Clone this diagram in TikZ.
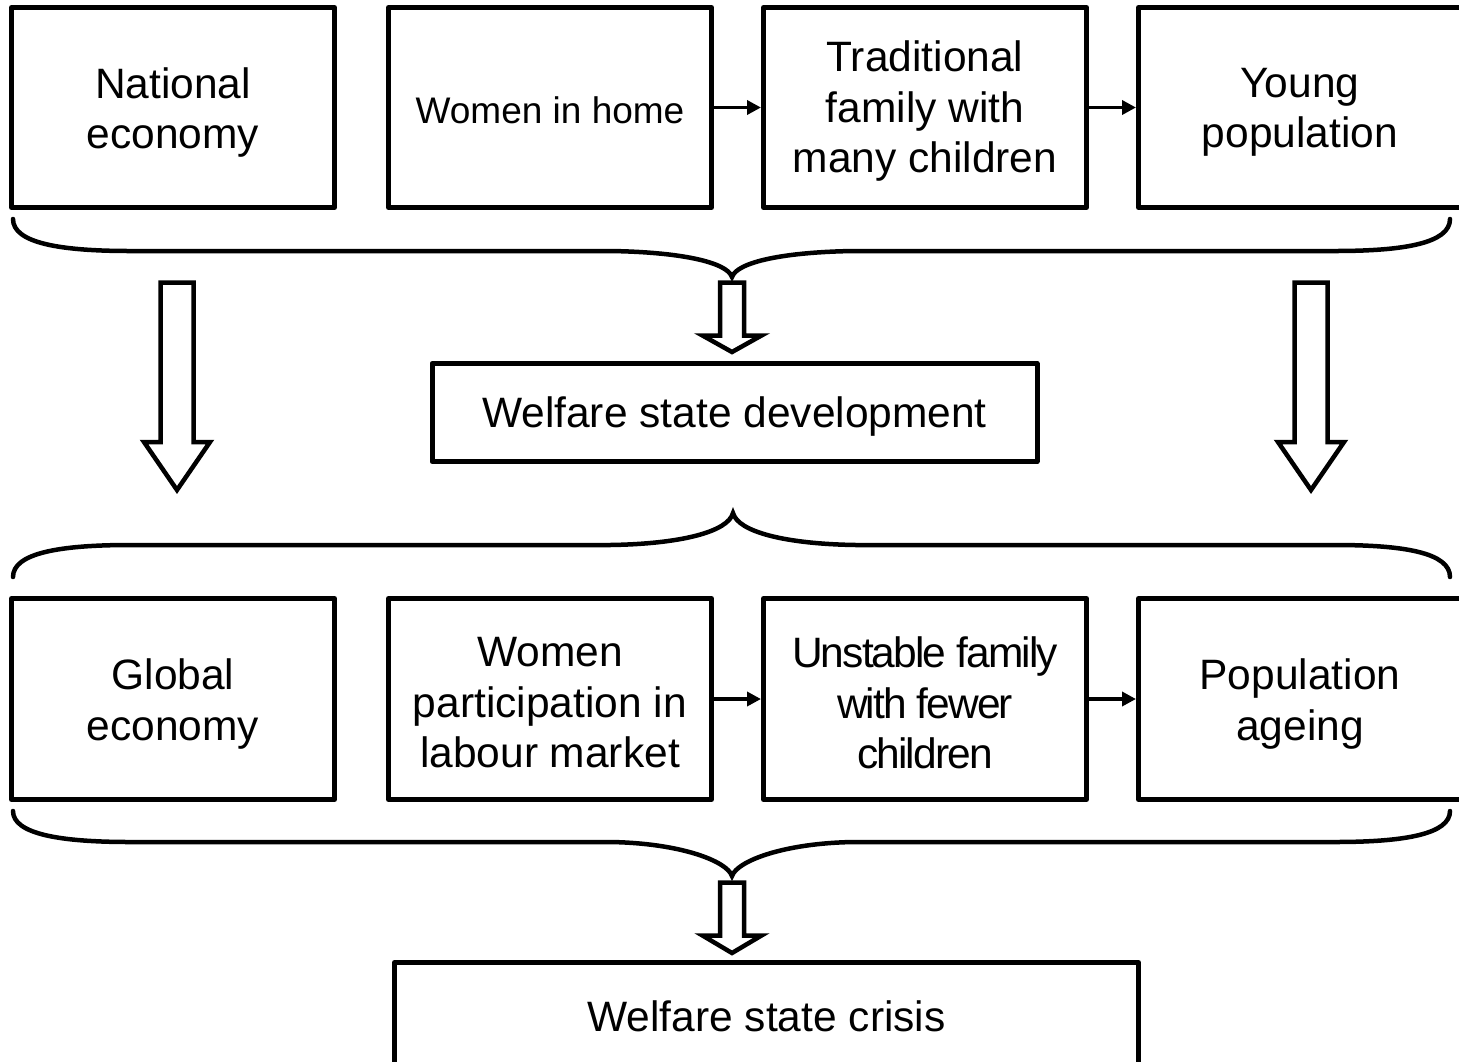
\documentclass[tikz,border=0pt]{standalone}
\usepackage{fontspec}
\setmainfont{Liberation Sans}
\newfontfamily\tightfont[LetterSpace=-4.5]{Liberation Sans}
\usetikzlibrary{arrows.meta}

\tikzset{
  box/.style={draw, line width=5pt, line join=round, minimum width=323pt, inner sep=0pt},
  txt/.style={align=center, inner sep=0pt, font=\fontsize{42.5}{50.5}\selectfont},
  flow/.style={line width=3.5pt, -{Triangle[length=14pt,width=14pt]}},
  brace/.style={line width=4.5pt, line cap=round},
  bigarrow/.style={line width=4.5pt, line join=miter},
}

% hollow block arrow: centre x, shaft half width, top, shoulder, head half width, tip
\newcommand\blockarrow[6]{%
  \draw[bigarrow] ({#1-#2},#3) -- ({#1+#2},#3) -- ({#1+#2},#4) -- ({#1+#5},#4)
    -- (#1,#6) -- ({#1-#5},#4) -- ({#1-#2},#4) -- cycle;}

\begin{document}
\begin{tikzpicture}[x=1pt,y=-1pt]
\clip (0,0) rectangle (1459,1061);
\fill[white] (0,0) rectangle (1459,1061);

% upper row
\node[box, minimum height=200pt] (ne) at (173,107.5) {};
\node[box, minimum height=200pt] (wh) at (550,107.5) {};
\node[box, minimum height=200pt] (tf) at (925,107.5) {};
\node[box, minimum height=200pt] (yp) at (1300,107.5) {};
\node[txt] (ne-t) at ([yshift=-5pt]ne.center) {National\\economy};
\node[txt, font=\fontsize{37}{44}\selectfont] (wh-t) at ([yshift=-3pt]wh.center) {Women in home};
\node[txt] (tf-t) at ([yshift=-4pt]tf.center) {Traditional\\family with\\many children};
\node[txt] (yp-t) at ([yshift=-5pt]yp.center) {Young\\population};
\draw[flow] (wh.east) -- (tf.west);
\draw[flow] (tf.east) -- (yp.west);

% brace gathering the upper row
\draw[brace] (13,219) .. controls (13,243) and (60,251) .. (130,251) -- (610,251)
  .. controls (680,252) and (727,262) .. (732,277)
  .. controls (737,262) and (784,252) .. (854,251) -- (1335,251)
  .. controls (1405,251) and (1450,243) .. (1450,219);

\blockarrow{732}{12}{282.5}{335.5}{29.5}{352}
\blockarrow{177}{16.5}{282.5}{442}{33}{490}
\blockarrow{1311}{16.5}{282.5}{442}{33}{490}

\node[box, minimum width=605pt, minimum height=98pt] (wd) at (734.5,412.5) {};
\node[txt] (wd-t) at ([yshift=-4pt]wd.center) {Welfare state development};

% brace opening onto the lower row
\draw[brace] (13,577) .. controls (13,553) and (60,545) .. (130,545) -- (610,545)
  .. controls (680,544) and (728,532) .. (733,513)
  .. controls (738,532) and (786,544) .. (856,545) -- (1335,545)
  .. controls (1405,545) and (1450,553) .. (1450,577);

% lower row
\node[box, minimum height=201pt] (ge) at (173,699) {};
\node[box, minimum height=201pt] (wp) at (550,699) {};
\node[box, minimum height=201pt] (uf) at (925,699) {};
\node[box, minimum height=201pt] (pa) at (1300,699) {};
\node[txt] (ge-t) at ([yshift=-5pt]ge.center) {Global\\economy};
\node[txt] (wp-t) at ([yshift=-4pt]wp.center) {Women\\participation in\\labour market};
\node[txt, font=\fontsize{42.5}{50.5}\tightfont] (uf-t) at ([yshift=-4pt]uf.center) {Unstable family\\with fewer\\children};
\node[txt] (pa-t) at ([yshift=-5pt]pa.center) {Population\\ageing};
\draw[flow] (wp.east) -- (uf.west);
\draw[flow] (uf.east) -- (pa.west);

% brace gathering the lower row
\draw[brace] (13,811) .. controls (13,834) and (60,842) .. (130,842) -- (610,842)
  .. controls (680,843) and (727,861) .. (732,876)
  .. controls (737,861) and (784,843) .. (854,842) -- (1335,842)
  .. controls (1405,842) and (1450,834) .. (1450,811);

\blockarrow{732}{12}{882.5}{935.5}{29.5}{953}

\node[box, minimum width=744pt, minimum height=105pt] (cr) at (766.5,1015) {};
\node[txt] (cr-t) at ([yshift=-1pt]cr.center) {Welfare state crisis};
\end{tikzpicture}
\end{document}
